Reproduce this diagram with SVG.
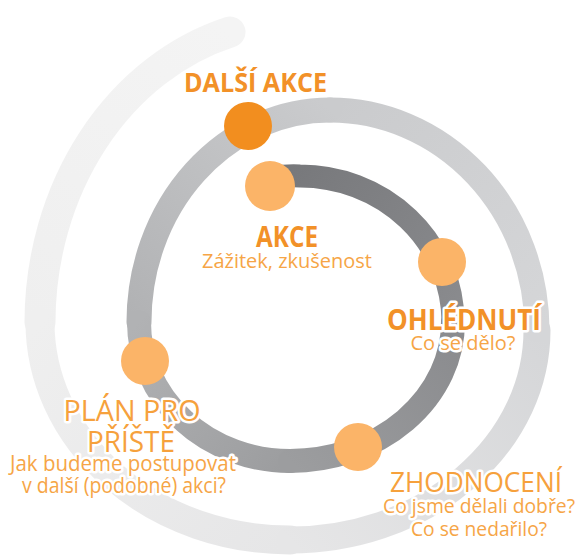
<svg xmlns="http://www.w3.org/2000/svg" width="579" height="555" viewBox="0 0 579 555">
  <style>
    .band { fill: none; stroke-linecap: round; }
    .dot { fill: #fbb468; }
    .dot-main { fill: #f28e1f; }
    .t { font-family: "Open Sans", "Noto Sans", "Liberation Sans", sans-serif; text-anchor: middle; }
    .head { font-weight: 700; fill: #f29128; }
    .head-light { font-weight: 400; fill: #f6a13c; }
    .sub { font-weight: 400; fill: #f6a546; }
    .halo { paint-order: stroke; stroke: #ffffff; stroke-width: 5; stroke-linejoin: round; }
  </style>
  <defs>
    <linearGradient id="g1" gradientUnits="userSpaceOnUse" x1="262" y1="179" x2="453" y2="322">
      <stop offset="0" stop-color="#76777a"/><stop offset="1" stop-color="#8a8b8e"/>
    </linearGradient>
    <linearGradient id="g2" gradientUnits="userSpaceOnUse" x1="453" y1="322" x2="290" y2="461">
      <stop offset="0" stop-color="#8a8b8e"/><stop offset="1" stop-color="#9c9d9f"/>
    </linearGradient>
    <linearGradient id="g3" gradientUnits="userSpaceOnUse" x1="290" y1="461" x2="139" y2="322">
      <stop offset="0" stop-color="#9c9d9f"/><stop offset="1" stop-color="#b1b2b4"/>
    </linearGradient>
    <linearGradient id="g4" gradientUnits="userSpaceOnUse" x1="139" y1="322" x2="330" y2="110">
      <stop offset="0" stop-color="#b1b2b4"/><stop offset="1" stop-color="#cacbcd"/>
    </linearGradient>
    <linearGradient id="g5" gradientUnits="userSpaceOnUse" x1="330" y1="110" x2="537" y2="330">
      <stop offset="0" stop-color="#cacbcd"/><stop offset="1" stop-color="#d5d6d8"/>
    </linearGradient>
    <linearGradient id="g6" gradientUnits="userSpaceOnUse" x1="537" y1="330" x2="290" y2="540">
      <stop offset="0" stop-color="#d5d6d8"/><stop offset="1" stop-color="#e6e6e7"/>
    </linearGradient>
    <linearGradient id="g7" gradientUnits="userSpaceOnUse" x1="290" y1="540" x2="40" y2="322">
      <stop offset="0" stop-color="#e6e6e7"/><stop offset="1" stop-color="#efefef"/>
    </linearGradient>
    <linearGradient id="g8" gradientUnits="userSpaceOnUse" x1="40" y1="322" x2="230" y2="32">
      <stop offset="0" stop-color="#efefef"/><stop offset="1" stop-color="#f4f4f4"/>
    </linearGradient>
  </defs>

  <!-- spiral track, drawn from the outer end inwards so inner turns sit on top -->
  <g id="connectors">
    <path class="band" stroke="url(#g8)" stroke-width="31" stroke-linecap="butt" d="M40 322 A260 302 0 0 1 230 32"/>
    <path class="band" stroke="url(#g7)" stroke-width="29" d="M290 540 A250 218 0 0 1 40 322"/>
    <path class="band" stroke="url(#g6)" stroke-width="27" d="M537 330 A247 210 0 0 1 290 540"/>
    <path class="band" stroke="url(#g5)" stroke-width="25" d="M330 110 A207 220 0 0 1 537 330"/>
    <path class="band" stroke="url(#g4)" stroke-width="25" d="M139 322 A191 212 0 0 1 330 110"/>
    <path class="band" stroke="url(#g3)" stroke-width="24" d="M290 461 A151 139 0 0 1 139 322"/>
    <path class="band" stroke="url(#g2)" stroke-width="24" d="M453 322 A163 139 0 0 1 290 461"/>
    <path class="band" stroke="url(#g1)" stroke-width="23" stroke-linecap="butt" d="M262 179 A153 146 0 0 1 300 176 A153 146 0 0 1 453 322"/>
  </g>

  <g id="dalsi-akce">
    <circle class="dot-main" cx="248" cy="126" r="24"/>
    <text class="t head" x="255.5" y="92" font-size="27" textLength="143" lengthAdjust="spacingAndGlyphs">DALŠÍ AKCE</text>
  </g>

  <g id="akce">
    <circle class="dot" cx="270" cy="186" r="25"/>
    <text class="t head" x="287" y="247" font-size="28" textLength="62" lengthAdjust="spacingAndGlyphs">AKCE</text>
    <text class="t sub" x="287" y="268" font-size="20" textLength="170" lengthAdjust="spacingAndGlyphs">Zážitek, zkušenost</text>
  </g>

  <g id="ohlednuti">
    <circle class="dot" cx="442" cy="262" r="24"/>
    <text class="t head halo" x="464" y="330" font-size="28" textLength="154" lengthAdjust="spacingAndGlyphs">OHLÉDNUTÍ</text>
    <text class="t sub halo" x="463" y="350" font-size="20" textLength="105" lengthAdjust="spacingAndGlyphs">Co se dělo?</text>
  </g>

  <g id="zhodnoceni">
    <circle class="dot" cx="358" cy="447" r="24"/>
    <text class="t head-light halo" x="476" y="492" font-size="27" textLength="172" lengthAdjust="spacingAndGlyphs">ZHODNOCENÍ</text>
    <text class="t sub halo" x="479" y="513" font-size="20" textLength="192" lengthAdjust="spacingAndGlyphs">Co jsme dělali dobře?</text>
    <text class="t sub halo" x="479" y="536" font-size="20" textLength="136" lengthAdjust="spacingAndGlyphs">Co se nedařilo?</text>
  </g>

  <g id="plan-pro-priste">
    <circle class="dot" cx="145" cy="361" r="24"/>
    <text class="t head-light halo" x="132" y="421" font-size="29" textLength="137" lengthAdjust="spacingAndGlyphs">PLÁN PRO</text>
    <text class="t head-light halo" x="131" y="452" font-size="29" textLength="88" lengthAdjust="spacingAndGlyphs">PŘÍŠTĚ</text>
    <text class="t sub halo" x="123" y="471" font-size="21" textLength="226" lengthAdjust="spacingAndGlyphs">Jak budeme postupovat</text>
    <text class="t sub halo" x="124" y="493" font-size="21" textLength="204" lengthAdjust="spacingAndGlyphs">v další (podobné) akci?</text>
  </g>
</svg>
